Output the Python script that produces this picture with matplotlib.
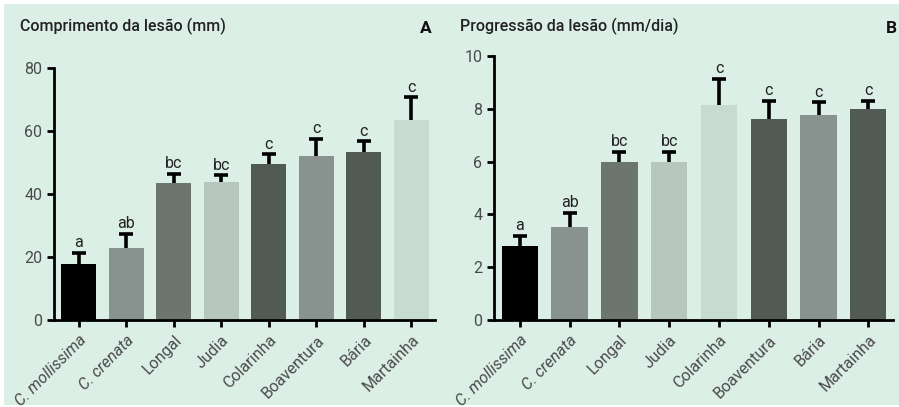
import matplotlib
matplotlib.use("Agg")
import matplotlib.pyplot as plt
from matplotlib.patches import Rectangle

plt.rcParams["font.family"] = ["Roboto", "DejaVu Sans"]

cultivars = ["C. mollissima", "C. crenata", "Longal", "Judia", "Colarinha",
             "Boaventura", "Bária", "Martainha"]
italic = [True, True, False, False, False, False, False, False]

# A: comprimento da lesão (mm)
len_mean = [17.8, 22.9, 43.5, 43.8, 49.5, 52.0, 53.3, 63.5]
len_err = [3.5, 4.4, 2.9, 2.2, 3.2, 5.5, 3.5, 7.3]
len_letters = ["a", "ab", "bc", "bc", "c", "c", "c", "c"]
len_colors = ["#000000", "#889390", "#6d7570", "#b7c6bf", "#525a56",
              "#889390", "#525a56", "#c8dbd2"]

# B: progressão da lesão (mm/dia)
prog_mean = [2.82, 3.53, 6.0, 6.0, 8.14, 7.63, 7.78, 7.98]
prog_err = [0.36, 0.52, 0.36, 0.36, 0.99, 0.68, 0.46, 0.33]
prog_letters = ["a", "ab", "bc", "bc", "c", "c", "c", "c"]
prog_colors = ["#000000", "#889390", "#6d7570", "#b7c6bf", "#c8dbd2",
               "#525a56", "#889390", "#525a56"]

bg = "#dcefe6"
fig = plt.figure(figsize=(8.99, 4.07), dpi=100, facecolor="white")
fig.patches.append(Rectangle((0.004, 0.004), 0.996, 0.986, transform=fig.transFigure,
                             facecolor=bg, edgecolor="none", zorder=-10))


def panel(rect, means, errs, letters, colors, ymax, ystep, off, title, tag, tag_x):
    ax = fig.add_axes(rect)
    ax.set_facecolor("none")
    x = list(range(len(means)))
    ax.bar(x, means, width=0.73, color=colors, edgecolor="none", zorder=2)
    eb = ax.errorbar(x, means, yerr=[[0] * len(errs), errs], fmt="none", ecolor="black",
                     elinewidth=2.6, capsize=5, capthick=2.6, zorder=3)
    eb[1][0].set_visible(False)  # only the upper cap
    for xi, m, e, t in zip(x, means, errs, letters):
        ax.text(xi, m + e + off, t, ha="center", va="bottom", fontsize=11.5, color="#222222")
    ax.set_xlim(-0.52, 7.5)
    ax.set_ylim(0, ymax)
    ax.set_yticks(range(0, ymax + 1, ystep))
    ax.set_xticks(x)
    ax.set_xticklabels(cultivars, rotation=45, ha="right", rotation_mode="anchor")
    for lbl, it in zip(ax.get_xticklabels(), italic):
        if it:
            lbl.set_style("italic")
    for s in ["top", "right"]:
        ax.spines[s].set_visible(False)
    for s in ["left", "bottom"]:
        ax.spines[s].set_linewidth(2)
    ax.tick_params(axis="both", width=2, length=5, labelsize=11.5, labelcolor="#4a4a4a")
    ax.tick_params(axis="x", pad=4)
    ax.spines["left"].set_bounds(0, ymax)
    fig.text(rect[0] - 0.038, 0.935, title, fontsize=11.5, fontweight="medium",
             color="#222222", va="center", ha="left")
    fig.text(tag_x, 0.93, tag, fontsize=12.5, fontweight="bold", color="#111111",
             va="center", ha="right")
    return ax


panel([0.060, 0.2138, 0.424, 0.619], len_mean, len_err, len_letters, len_colors,
      80, 20, 0.8, "Comprimento da lesão (mm)", "A", 0.480)
panel([0.5495, 0.2138, 0.444, 0.6486], prog_mean, prog_err, prog_letters, prog_colors,
      10, 2, 0.1, "Progressão da lesão (mm/dia)", "B", 0.998)

fig.savefig("out.png", dpi=100, facecolor="white")
